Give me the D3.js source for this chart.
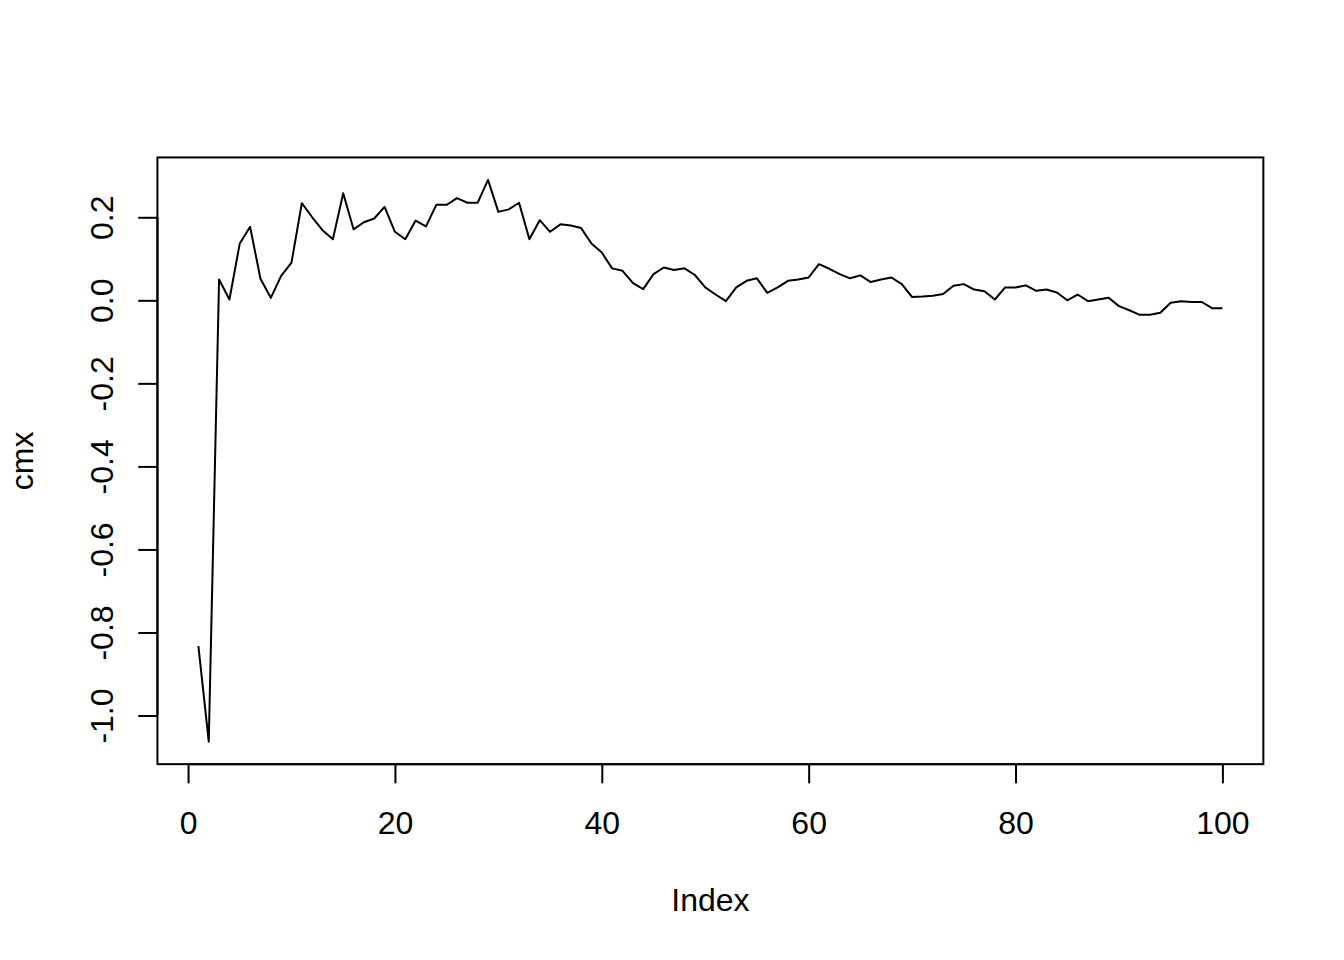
<!DOCTYPE html>
<html>
<head>
<meta charset="utf-8">
<script src="https://cdn.jsdelivr.net/npm/d3@7"></script>
<style>
  html, body { margin: 0; padding: 0; background: #fff; }
  svg { display: block; }
  text { font-family: "Liberation Sans", Arial, sans-serif; fill: #000; }
</style>
</head>
<body>
<svg id="chart" width="1344" height="960"></svg>
<script>
// Data (index 1..100)
const cmx = [
  -0.833, -1.063, 0.050, 0.002, 0.137, 0.177, 0.052, 0.006, 0.059, 0.091,
  0.234, 0.200, 0.169, 0.147, 0.258, 0.171, 0.188, 0.197, 0.225, 0.165,
  0.147, 0.192, 0.178, 0.230, 0.230, 0.246, 0.235, 0.235, 0.290, 0.213,
  0.219, 0.235, 0.147, 0.193, 0.165, 0.183, 0.180, 0.174, 0.137, 0.115,
  0.077, 0.071, 0.042, 0.027, 0.063, 0.079, 0.073, 0.077, 0.061, 0.031,
  0.014, -0.002, 0.031, 0.047, 0.053, 0.018, 0.031, 0.047, 0.050, 0.055,
  0.087, 0.076, 0.063, 0.053, 0.060, 0.044, 0.050, 0.055, 0.039, 0.008,
  0.009, 0.011, 0.015, 0.035, 0.039, 0.026, 0.022, 0.002, 0.031, 0.031,
  0.036, 0.023, 0.026, 0.019, 0.000, 0.014, -0.002, 0.002, 0.006, -0.014,
  -0.024, -0.035, -0.035, -0.030, -0.006, -0.002, -0.004, -0.004, -0.019, -0.019
];
const index = cmx.map((_, i) => i + 1);
const xTicks = [0, 20, 40, 60, 80, 100];
const yTicks = [-1.0, -0.8, -0.6, -0.4, -0.2, 0.0, 0.2];
const xLabel = "Index";
const yLabel = "cmx";

const svg = d3.select("#chart");
const W = 1344, H = 960;
const lineH = 38.4;
const margin = { top: 4.1 * lineH, right: 2.1 * lineH, bottom: 5.1 * lineH, left: 4.1 * lineH };
const x0 = margin.left, x1 = W - margin.right, y0 = margin.top, y1 = H - margin.bottom;

function extend(ext) {
  const d = (ext[1] - ext[0]) * 0.04;
  return [ext[0] - d, ext[1] + d];
}
const x = d3.scaleLinear().domain(extend(d3.extent(index))).range([x0, x1]);
const y = d3.scaleLinear().domain(extend(d3.extent(cmx))).range([y1, y0]);

const fs = 32;
const tickLen = 0.5 * lineH;

// Line
const line = d3.line().x((d, i) => x(index[i])).y(d => y(d));
svg.append("path")
  .datum(cmx)
  .attr("d", line)
  .attr("fill", "none")
  .attr("stroke", "#000")
  .attr("stroke-width", 2)
  .attr("stroke-linejoin", "round");

// Box
svg.append("rect")
  .attr("x", x0).attr("y", y0)
  .attr("width", x1 - x0).attr("height", y1 - y0)
  .attr("fill", "none").attr("stroke", "#000").attr("stroke-width", 2);

// X axis
const xAxis = d3.axisBottom(x).tickValues(xTicks).tickSize(tickLen).tickPadding(0).tickFormat(d3.format("d"));
const gx = svg.append("g").attr("transform", `translate(0,${y1})`).call(xAxis);
gx.select(".domain").attr("d", `M${x(xTicks[0])},0H${x(xTicks[xTicks.length - 1])}`).attr("stroke-width", 2);
gx.selectAll(".tick line").attr("stroke-width", 2);
gx.selectAll(".tick text")
  .attr("y", 70).attr("dy", null)
  .style("font-size", fs + "px")
  .style("font-family", '"Liberation Sans", Arial, sans-serif');

// Y axis
const yAxis = d3.axisLeft(y).tickValues(yTicks).tickSize(tickLen).tickPadding(0).tickFormat(d3.format(".1f"));
const gy = svg.append("g").attr("transform", `translate(${x0},0)`).call(yAxis);
gy.select(".domain").attr("d", `M0,${y(yTicks[0])}V${y(yTicks[yTicks.length - 1])}`).attr("stroke-width", 2);
gy.selectAll(".tick line").attr("stroke-width", 2);
gy.selectAll(".tick text")
  .attr("x", null).attr("dy", null)
  .attr("transform", "translate(-44.5,0) rotate(-90)")
  .attr("text-anchor", "middle")
  .style("font-size", fs + "px")
  .style("font-family", '"Liberation Sans", Arial, sans-serif')
  .text(d => d3.format(".1f")(d).replace("\u2212", "-"));

// Axis titles
svg.append("text")
  .attr("x", (x0 + x1) / 2).attr("y", 911)
  .attr("text-anchor", "middle")
  .style("font-size", fs + "px")
  .text(xLabel);

svg.append("text")
  .attr("transform", `translate(33,${(y0 + y1) / 2}) rotate(-90)`)
  .attr("text-anchor", "middle")
  .style("font-size", fs + "px")
  .text(yLabel);
</script>
</body>
</html>
